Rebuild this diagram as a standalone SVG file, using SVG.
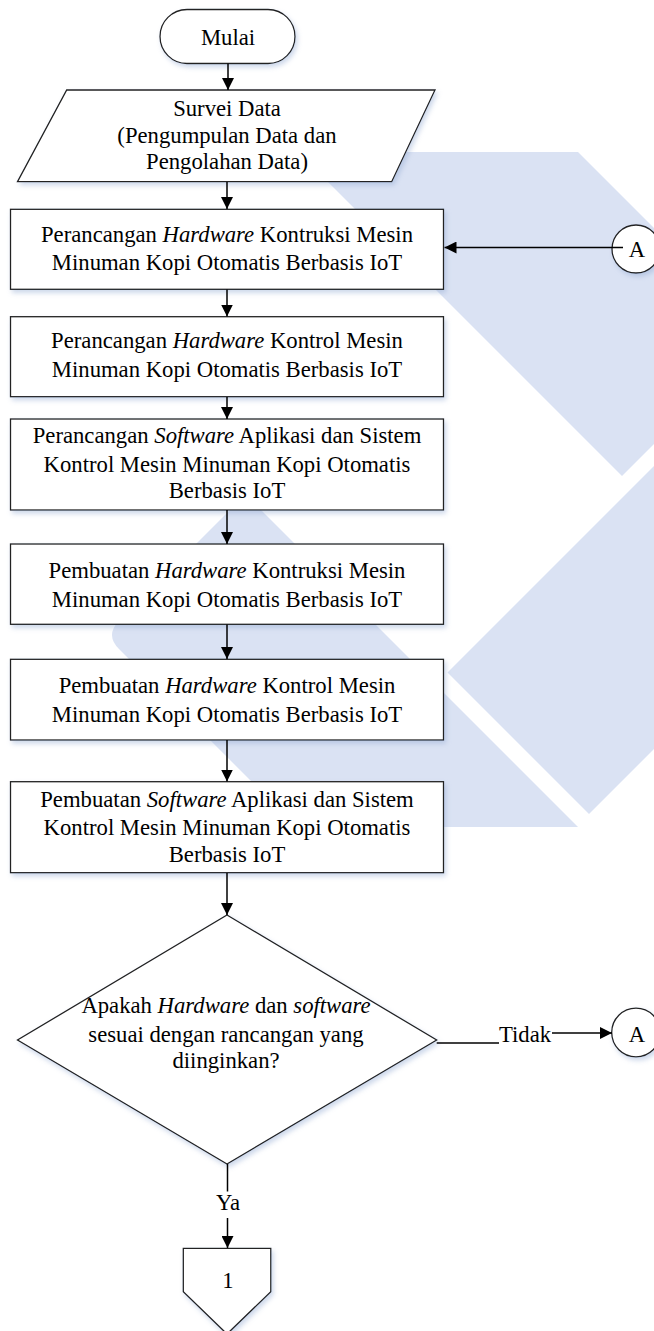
<svg xmlns="http://www.w3.org/2000/svg" width="654" height="1331" viewBox="0 0 654 1331">
<defs>
<style>
.bg{fill:#dae2f3;stroke:none}
.sh{fill:#fff;stroke:#222;stroke-width:1.3;filter:url(#shadow)}
.ln{fill:none;stroke:#000;stroke-width:1.5}
.ar{fill:none;stroke:#000;stroke-width:1.5;marker-end:url(#ah)}
text{font-family:"Liberation Serif","Times New Roman",serif;font-size:22.7px;fill:#000}
.c{text-anchor:middle}
.i{font-style:italic}
</style>
<filter id="shadow" x="-10%" y="-10%" width="125%" height="135%">
<feDropShadow dx="2" dy="3" stdDeviation="2.5" flood-color="#8fa8d0" flood-opacity="0.45"/>
</filter>
<marker id="ah" viewBox="0 0 12 12" refX="12" refY="6" markerWidth="12" markerHeight="12" markerUnits="userSpaceOnUse" orient="auto">
<path d="M0,0 L12,6 L0,12 z" fill="#000"/>
</marker>
</defs>
<rect width="654" height="1331" fill="#fff"/>
<g id="watermark">
<polygon class="bg" points="298,152 578,152 762,336 622,476"/>
<polygon class="bg" points="447.5,672.5 900,220 900,503 589,814"/>
<path class="bg" d="M245.5,494.5 L578,827 L297,827 L119,649 Q105,635 119,621 Z"/>
</g>
<g id="start">
<rect class="sh" x="160" y="9.5" width="135" height="54" rx="27" ry="27"/>
<text class="c" x="228" y="44.5">Mulai</text>
</g>
<g id="survei">
<polygon class="sh" points="66.7,90 435,90 391.7,181.7 17.5,181.7"/>
<text class="c" x="227" y="116">Survei Data</text>
<text class="c" x="227" y="143">(Pengumpulan Data dan</text>
<text class="c" x="227" y="169">Pengolahan Data)</text>
</g>
<g id="box1">
<rect class="sh" x="10.5" y="209.3" width="433" height="80"/>
<text class="c" x="227" y="241.7">Perancangan <tspan class="i">Hardware</tspan> Kontruksi Mesin</text>
<text class="c" x="227" y="270">Minuman Kopi Otomatis Berbasis IoT</text>
</g>
<g id="box2">
<rect class="sh" x="10.5" y="316.7" width="433" height="80"/>
<text class="c" x="227" y="348">Perancangan <tspan class="i">Hardware</tspan> Kontrol Mesin</text>
<text class="c" x="227" y="376.7">Minuman Kopi Otomatis Berbasis IoT</text>
</g>
<g id="box3">
<rect class="sh" x="10.5" y="419" width="433" height="91"/>
<text class="c" x="227" y="443.3">Perancangan <tspan class="i">Software</tspan> Aplikasi dan Sistem</text>
<text class="c" x="227" y="471.7">Kontrol Mesin Minuman Kopi Otomatis</text>
<text class="c" x="227" y="498.3">Berbasis IoT</text>
</g>
<g id="box4">
<rect class="sh" x="10.5" y="544" width="433" height="80.3"/>
<text class="c" x="227" y="578.3">Pembuatan <tspan class="i">Hardware</tspan> Kontruksi Mesin</text>
<text class="c" x="227" y="606.7">Minuman Kopi Otomatis Berbasis IoT</text>
</g>
<g id="box5">
<rect class="sh" x="10.5" y="659.3" width="433" height="80.7"/>
<text class="c" x="227" y="693.3">Pembuatan <tspan class="i">Hardware</tspan> Kontrol Mesin</text>
<text class="c" x="227" y="721.7">Minuman Kopi Otomatis Berbasis IoT</text>
</g>
<g id="box6">
<rect class="sh" x="10.5" y="781.7" width="433" height="91"/>
<text class="c" x="227" y="806.7">Pembuatan <tspan class="i">Software</tspan> Aplikasi dan Sistem</text>
<text class="c" x="227" y="835">Kontrol Mesin Minuman Kopi Otomatis</text>
<text class="c" x="227" y="861.7">Berbasis IoT</text>
</g>
<g id="decision">
<polygon class="sh" points="227,915 436.7,1040 227,1164 17.5,1040"/>
<text class="c" x="226" y="1013.3">Apakah <tspan class="i">Hardware</tspan> dan <tspan class="i">software</tspan></text>
<text class="c" x="226" y="1041.7">sesuai dengan rancangan yang</text>
<text class="c" x="226" y="1068.3">diinginkan?</text>
</g>
<g id="connectorA1">
<circle class="sh" cx="636" cy="249" r="24"/>
<text class="c" x="637" y="256.5">A</text>
</g>
<g id="connectorA2">
<circle class="sh" cx="636" cy="1032.5" r="24.3"/>
<text class="c" x="637" y="1042">A</text>
</g>
<g id="offpage1">
<polygon class="sh" points="183.3,1248.3 270.8,1248.3 270.8,1291.7 227,1334 183.3,1291.7"/>
<text class="c" x="228" y="1288">1</text>
</g>
<g id="connectors">
<line class="ar" x1="228" y1="63.5" x2="228" y2="90"/>
<line class="ar" x1="227" y1="182" x2="227" y2="209"/>
<line class="ar" x1="227" y1="289.5" x2="227" y2="316.5"/>
<line class="ar" x1="227" y1="397" x2="227" y2="419"/>
<line class="ar" x1="227" y1="510" x2="227" y2="544"/>
<line class="ar" x1="227" y1="624.5" x2="227" y2="659"/>
<line class="ar" x1="227" y1="740" x2="227" y2="781.5"/>
<line class="ar" x1="227" y1="873" x2="227" y2="915"/>
<line class="ar" x1="623" y1="247.5" x2="444.5" y2="247.5"/>
<line class="ln" x1="436.7" y1="1043" x2="499" y2="1043"/>
<line class="ar" x1="552" y1="1033" x2="612" y2="1033"/>
<line class="ln" x1="227.5" y1="1164" x2="227.5" y2="1191.5"/>
<line class="ar" x1="227.5" y1="1218" x2="227.5" y2="1248"/>
<text x="499" y="1042">Tidak</text>
<text class="c" x="228" y="1210">Ya</text>
</g>
</svg>
